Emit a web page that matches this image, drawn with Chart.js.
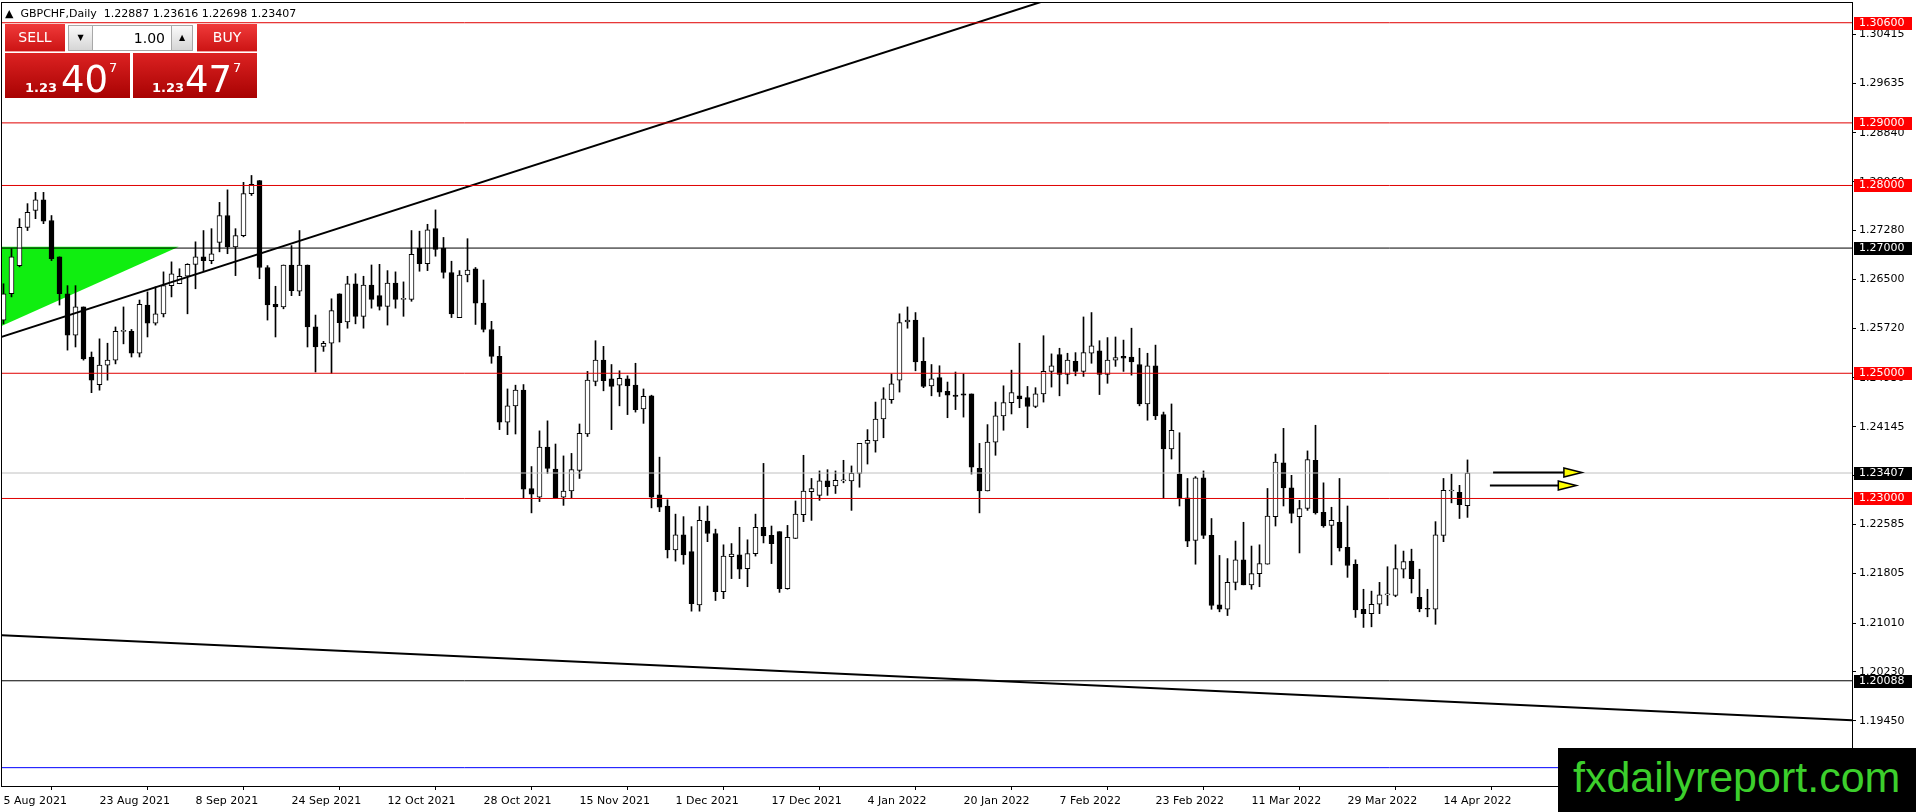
<!DOCTYPE html>
<html>
<head>
<meta charset="utf-8">
<script src="https://cdn.jsdelivr.net/npm/chart.js@4.4.1/dist/chart.umd.min.js"></script>
<style>
  html, body { margin: 0; padding: 0; background: #fff; }
  #wrap { position: relative; width: 1916px; height: 812px; overflow: hidden; font-family: 'DejaVu Sans', sans-serif; }
  #wrap canvas { position: absolute; left: 0; top: 0; }
  .ov { position: absolute; box-sizing: border-box; }
  #title { left: 5px; top: 7px; font-size: 11px; color: #000; white-space: pre; }
  .btn { top: 24px; height: 28px; width: 60px; color: #fff; font-size: 14px; text-align: center; line-height: 26px;
         background: linear-gradient(#f03a3a, #cc1414); border-bottom: 1px solid #f3a0a0; }
  .spin { top: 25px; height: 26px; background: linear-gradient(#fafafa, #d6d6d6); border: 1px solid #a8a8a8;
          font-size: 8px; text-align: center; line-height: 24px; color: #000; }
  #qty { left: 92px; top: 25px; width: 80px; height: 26px; background: #fff; border: 1px solid #a8a8a8;
         font-size: 14px; text-align: right; padding-right: 6px; line-height: 24px; }
  .price { top: 53px; height: 45px; background: linear-gradient(#dc2222, #a80202); color: #fff; }
  .price span { position: absolute; line-height: 1; }
  .p1 { font-size: 13px; font-weight: bold; top: 28px; }
  .p2 { font-size: 37px; top: 8px; }
  .p3 { font-size: 13px; top: 8px; }
  #mark { left: 1558px; top: 748px; width: 358px; height: 64px; background: #000; color: #3ccf2c;
          font-family: 'Liberation Sans', sans-serif; font-size: 43px; line-height: 58px; padding-left: 15px; }
</style>
</head>
<body>
<div id="wrap">
  <canvas id="chart" width="1916" height="812"></canvas>
  <div class="ov" id="title">&#9650;  GBPCHF,Daily  1.22887 1.23616 1.22698 1.23407</div>
  <div class="ov btn" style="left:5px">SELL</div>
  <div class="ov spin" style="left:68px;width:25px">&#9660;</div>
  <div class="ov" id="qty">1.00</div>
  <div class="ov spin" style="left:171px;width:22px">&#9650;</div>
  <div class="ov btn" style="left:197px">BUY</div>
  <div class="ov price" style="left:5px;width:125px">
    <span class="p1" style="left:20px">1.23</span><span class="p2" style="left:56px">40</span><span class="p3" style="left:104px">7</span>
  </div>
  <div class="ov price" style="left:133px;width:124px">
    <span class="p1" style="left:19px">1.23</span><span class="p2" style="left:52px">47</span><span class="p3" style="left:100px">7</span>
  </div>
  <div class="ov" id="mark">fxdailyreport.com</div>
</div>
<script>
// daily bars, 5 Aug 2021 .. 19 Apr 2022
const opens = [
  1.2585,1.2627,1.2672,1.2733,1.2760,1.2777,1.2744,1.2686,1.2627,1.2561,
  1.2606,1.2526,1.2482,1.2513,1.2521,1.2567,1.2567,1.2532,1.2609,1.2580,
  1.2595,1.2640,1.2643,1.2655,1.2674,1.2686,1.2680,1.2709,1.2752,1.2702,
  1.2720,1.2787,1.2808,1.2669,1.2610,1.2606,1.2673,1.2631,1.2673,1.2574,
  1.2543,1.2548,1.2627,1.2582,1.2643,1.2591,1.2641,1.2624,1.2607,1.2644,
  1.2618,1.2618,1.2700,1.2675,1.2731,1.2700,1.2661,1.2589,1.2657,1.2667,
  1.2612,1.2570,1.2527,1.2422,1.2448,1.2473,1.2316,1.2302,1.2382,1.2347,
  1.2302,1.2312,1.2345,1.2403,1.2487,1.2521,1.2491,1.2481,1.2491,1.2481,
  1.2443,1.2464,1.2306,1.2288,1.2218,1.2242,1.2215,1.2130,1.2264,1.2244,
  1.2151,1.2207,1.2210,1.2188,1.2212,1.2254,1.2241,1.2247,1.2156,1.2236,
  1.2274,1.2311,1.2305,1.2328,1.2320,1.2328,1.2328,1.2340,1.2388,1.2392,
  1.2427,1.2458,1.2489,1.2582,1.2585,1.2519,1.2480,1.2493,1.2471,1.2465,
  1.2467,1.2467,1.2348,1.2312,1.2390,1.2432,1.2453,1.2464,1.2461,1.2447,
  1.2467,1.2503,1.2530,1.2498,1.2519,1.2503,1.2532,1.2536,1.2498,1.2521,
  1.2527,1.2526,1.2514,1.2451,1.2512,1.2434,1.2379,1.2339,1.2301,1.2233,
  1.2333,1.2241,1.2130,1.2123,1.2166,1.2202,1.2162,1.2180,1.2195,1.2271,
  1.2357,1.2317,1.2271,1.2284,1.2361,1.2278,1.2257,1.2262,1.2222,1.2195,
  1.2123,1.2116,1.2131,1.2146,1.2145,1.2187,1.2200,1.2142,1.2124,1.2123,
  1.2241,1.2312,1.2310,1.22887
];
const highs = [
  1.2643,1.2699,1.2747,1.2771,1.2789,1.2789,1.2752,1.2686,1.2640,1.2640,
  1.2606,1.2534,1.2555,1.2548,1.2574,1.2606,1.2570,1.2617,1.2630,1.2638,
  1.2662,1.2678,1.2667,1.2675,1.2710,1.2728,1.2731,1.2773,1.2793,1.2731,
  1.2805,1.2816,1.2808,1.2672,1.2639,1.2673,1.2704,1.2728,1.2673,1.2593,
  1.2551,1.2619,1.2627,1.2655,1.2659,1.2655,1.2673,1.2674,1.2664,1.2662,
  1.2646,1.2728,1.2727,1.2738,1.2761,1.2717,1.2679,1.2664,1.2715,1.2669,
  1.2649,1.2583,1.2543,1.2475,1.2481,1.2482,1.2351,1.2408,1.2424,1.2387,
  1.2368,1.2372,1.2419,1.2503,1.2552,1.2543,1.2514,1.2504,1.2496,1.2516,
  1.2475,1.2465,1.2366,1.2298,1.2275,1.2271,1.2255,1.2287,1.2288,1.2251,
  1.2226,1.2228,1.2254,1.2234,1.2275,1.2356,1.2256,1.2247,1.2257,1.2296,
  1.2369,1.2332,1.2344,1.2346,1.2344,1.2361,1.2352,1.2388,1.2410,1.2454,
  1.2477,1.2499,1.2595,1.2606,1.2597,1.2557,1.2514,1.2512,1.2486,1.2502,
  1.2499,1.2467,1.2388,1.2418,1.2454,1.2480,1.2505,1.2548,1.2479,1.2477,
  1.2560,1.2531,1.2540,1.2532,1.2533,1.2590,1.2597,1.2552,1.2557,1.2558,
  1.2553,1.2572,1.2540,1.2532,1.2545,1.2438,1.2451,1.2405,1.2332,1.2335,
  1.2344,1.2268,1.2209,1.2204,1.2232,1.2262,1.2224,1.2226,1.2316,1.2371,
  1.2412,1.2337,1.2297,1.2376,1.2417,1.2325,1.2286,1.2332,1.2288,1.2202,
  1.2155,1.2152,1.2166,1.2191,1.2226,1.2216,1.2219,1.2187,1.2155,1.2263,
  1.2332,1.2339,1.2321,1.23616
];
const lows = [
  1.2579,1.2622,1.2670,1.2728,1.2747,1.2739,1.2680,1.2609,1.2537,1.2542,
  1.2521,1.2469,1.2473,1.2489,1.2515,1.2547,1.2526,1.2526,1.2558,1.2577,
  1.2590,1.2622,1.2643,1.2595,1.2635,1.2664,1.2675,1.2694,1.2691,1.2656,
  1.2718,1.2784,1.2651,1.2585,1.2558,1.2603,1.2624,1.2624,1.2542,1.2502,
  1.2535,1.2500,1.2550,1.2572,1.2579,1.2572,1.2604,1.2601,1.2577,1.2604,
  1.2591,1.2615,1.2663,1.2664,1.2687,1.2652,1.2589,1.2589,1.2646,1.2578,
  1.2566,1.2516,1.2410,1.2402,1.2403,1.2301,1.2277,1.2295,1.2340,1.2301,
  1.2289,1.2301,1.2332,1.2399,1.2480,1.2472,1.2410,1.2448,1.2434,1.2438,
  1.2420,1.2285,1.2279,1.2205,1.2200,1.2195,1.2120,1.2120,1.2231,1.2137,
  1.2140,1.2172,1.2172,1.2159,1.2208,1.2229,1.2196,1.2150,1.2155,1.2236,
  1.2263,1.2265,1.2297,1.2305,1.2308,1.2325,1.2281,1.2318,1.2355,1.2374,
  1.2397,1.2452,1.2470,1.2572,1.2504,1.2477,1.2464,1.2463,1.2429,1.2442,
  1.2430,1.2339,1.2277,1.2312,1.2369,1.2409,1.2435,1.2445,1.2413,1.2445,
  1.2454,1.2478,1.2464,1.2483,1.2496,1.2495,1.2516,1.2466,1.2484,1.2511,
  1.2503,1.2497,1.2448,1.2425,1.2426,1.2300,1.2363,1.2288,1.2223,1.2195,
  1.2236,1.2123,1.2119,1.2113,1.2154,1.2162,1.2155,1.2159,1.2195,1.2256,
  1.2288,1.2261,1.2213,1.2281,1.2275,1.2254,1.2194,1.2216,1.2174,1.2110,
  1.2094,1.2095,1.2116,1.2129,1.2143,1.2173,1.2149,1.2119,1.2111,1.2099,
  1.2231,1.2293,1.2268,1.22698
];
const closes = [
  1.2627,1.2686,1.2733,1.2757,1.2777,1.2743,1.2683,1.2627,1.2561,1.2606,
  1.2523,1.2489,1.2513,1.2521,1.2567,1.2568,1.2532,1.2610,1.2580,1.2595,
  1.2640,1.2659,1.2655,1.2674,1.2686,1.2680,1.2691,1.2752,1.2702,1.2720,
  1.2787,1.2802,1.2669,1.2609,1.2606,1.2673,1.2632,1.2673,1.2574,1.2542,
  1.2548,1.2600,1.2581,1.2643,1.2591,1.2641,1.2618,1.2607,1.2644,1.2618,
  1.2619,1.2690,1.2675,1.2729,1.2698,1.2661,1.2595,1.2657,1.2665,1.2612,
  1.2570,1.2527,1.2422,1.2448,1.2473,1.2315,1.2307,1.2382,1.2348,1.2301,
  1.2312,1.2346,1.2404,1.2489,1.2521,1.2488,1.2479,1.2492,1.2480,1.2442,
  1.2463,1.2302,1.2286,1.2218,1.2242,1.2210,1.2132,1.2265,1.2244,1.2151,
  1.2208,1.2211,1.2187,1.2212,1.2254,1.2240,1.2228,1.2156,1.2238,1.2275,
  1.2312,1.2316,1.2328,1.2319,1.2329,1.2329,1.2340,1.2388,1.2393,1.2427,
  1.2459,1.2483,1.2581,1.2585,1.2518,1.2479,1.2491,1.2470,1.2465,1.2463,
  1.2465,1.2350,1.2312,1.2390,1.2432,1.2453,1.2469,1.2459,1.2447,1.2467,
  1.2503,1.2512,1.2498,1.2521,1.2503,1.2533,1.2544,1.2498,1.2521,1.2525,
  1.2524,1.2518,1.2451,1.2512,1.2432,1.2379,1.2409,1.2301,1.2232,1.2333,
  1.2241,1.2129,1.2123,1.2166,1.2202,1.2162,1.2180,1.2196,1.2272,1.2358,
  1.2317,1.2276,1.2284,1.2362,1.2277,1.2256,1.2265,1.2221,1.2193,1.2122,
  1.2116,1.2131,1.2146,1.2147,1.2188,1.2199,1.2172,1.2124,1.2123,1.2242,
  1.2313,1.2313,1.2290,1.23407
];

// date labels shown every 12 bars
const tickDates = ['5 Aug 2021', '23 Aug 2021', '8 Sep 2021', '24 Sep 2021', '12 Oct 2021', '28 Oct 2021',
  '15 Nov 2021', '1 Dec 2021', '17 Dec 2021', '4 Jan 2022', '20 Jan 2022', '7 Feb 2022',
  '23 Feb 2022', '11 Mar 2022', '29 Mar 2022', '14 Apr 2022'];
const tickBars = [0, 12, 24, 36, 48, 60, 72, 84, 96, 108, 120, 132, 144, 156, 168, 180];
const priceTicks = [1.30415, 1.29635, 1.28840, 1.28060, 1.27280, 1.26500, 1.25720, 1.24930,
  1.24145, 1.23365, 1.22585, 1.21805, 1.21010, 1.20230, 1.19450];

// drawn objects
const redLevels = [1.30600, 1.29000, 1.28000, 1.25000, 1.23000];
const blackLevels = [1.27000, 1.20088];
const bidLevel = 1.23407;
const blueLevel = 1.18700;
const upperTrend = [[-1, 1.2555], [135, 1.3115]];
const lowerTrend = [[-1, 1.2082], [232, 1.1945]];
const greenTriangle = [[-0.2, 1.2702], [21.9, 1.2702], [-0.2, 1.2576]];
const arrowStart = [186.2, 185.8];
const arrowTip = [197.3, 196.6];
const arrowPrice = [1.2342, 1.2322];

const X_MIN = -0.1875, X_MAX = 231.0625;
const Y_MIN = 1.18407, Y_MAX = 1.30915;
const FONT = { family: 'DejaVu Sans', size: 11 };

function hLine(price, color) {
  return {
    type: 'line', data: [{ x: X_MIN, y: price }, { x: X_MAX, y: price }],
    borderColor: color, borderWidth: 1, pointRadius: 0, order: 1
  };
}

const datasets = [
  {
    type: 'bar',
    data: opens.map((o, i) => ({ x: i, y: [o, closes[i]] })),
    backgroundColor: opens.map((o, i) => closes[i] >= o ? '#ffffff' : '#000000'),
    borderColor: '#000', borderWidth: 1, borderSkipped: false,
    barThickness: 5, minBarLength: 1, grouped: false, order: 4
  },
  {
    type: 'bar',
    data: lows.map((l, i) => ({ x: i, y: [l, highs[i]] })),
    backgroundColor: '#000', borderWidth: 0,
    barThickness: 1, grouped: false, order: 5
  },
  hLine(bidLevel, '#c0c0c0'),
  hLine(blueLevel, '#0000ff'),
  ...redLevels.map(p => hLine(p, '#e00000')),
  ...blackLevels.map(p => hLine(p, '#000000')),
  {
    type: 'line', data: upperTrend.map(p => ({ x: p[0], y: p[1] })),
    borderColor: '#000', borderWidth: 2, pointRadius: 0, order: 1
  },
  {
    type: 'line', data: lowerTrend.map(p => ({ x: p[0], y: p[1] })),
    borderColor: '#000', borderWidth: 2, pointRadius: 0, order: 1
  }
];

const decor = {
  id: 'decor',
  beforeDatasetsDraw(chart) {
    const { ctx, chartArea, scales: { x, y } } = chart;
    ctx.save();
    ctx.beginPath();
    ctx.rect(chartArea.left, chartArea.top, chartArea.width, chartArea.height);
    ctx.clip();
    ctx.beginPath();
    greenTriangle.forEach((p, i) => {
      const px = x.getPixelForValue(p[0]), py = y.getPixelForValue(p[1]);
      if (i === 0) ctx.moveTo(px, py); else ctx.lineTo(px, py);
    });
    ctx.closePath();
    ctx.fillStyle = '#10ee10';
    ctx.fill();
    ctx.restore();
  },
  afterDraw(chart) {
    const { ctx, chartArea, scales: { x, y } } = chart;
    ctx.save();
    // frame
    ctx.strokeStyle = '#000';
    ctx.lineWidth = 1;
    ctx.strokeRect(chartArea.left - 0.5, chartArea.top - 0.5, chartArea.width + 1, chartArea.height + 1);

    // arrows
    arrowPrice.forEach((p, i) => {
      const py = Math.round(y.getPixelForValue(p)) + 0.5;
      const x0 = x.getPixelForValue(arrowStart[i]);
      const x1 = x.getPixelForValue(arrowTip[i]);
      const hx = x1 - 18;
      ctx.strokeStyle = '#000';
      ctx.lineWidth = 2;
      ctx.beginPath();
      ctx.moveTo(x0, py);
      ctx.lineTo(hx, py);
      ctx.stroke();
      ctx.beginPath();
      ctx.moveTo(hx, py - 4.5);
      ctx.lineTo(x1, py);
      ctx.lineTo(hx, py + 4.5);
      ctx.closePath();
      ctx.fillStyle = '#ffff00';
      ctx.fill();
      ctx.lineWidth = 1.5;
      ctx.stroke();
    });

    // price labels on the axis
    const boxes = [
      ...redLevels.map(p => [p, '#ff0000']),
      ...blackLevels.map(p => [p, '#000000']),
      [bidLevel, '#000000']
    ];
    ctx.font = "11px 'DejaVu Sans'";
    ctx.textBaseline = 'middle';
    ctx.textAlign = 'left';
    boxes.forEach(([p, c]) => {
      const py = Math.round(y.getPixelForValue(p));
      ctx.fillStyle = c;
      ctx.fillRect(chartArea.right + 2, py - 6, 58, 13);
      ctx.fillStyle = '#fff';
      ctx.fillText(p.toFixed(5), chartArea.right + 7, py + 0.5);
    });
    ctx.restore();
  }
};

new Chart(document.getElementById('chart'), {
  type: 'bar',
  data: { datasets },
  options: {
    responsive: false,
    animation: false,
    devicePixelRatio: 1,
    events: [],
    layout: { padding: { left: 2, top: 3, right: 0, bottom: 0 } },
    plugins: { legend: { display: false }, tooltip: { enabled: false } },
    elements: { line: { tension: 0 } },
    scales: {
      x: {
        type: 'linear', min: X_MIN, max: X_MAX, offset: false,
        grid: { drawOnChartArea: false, drawTicks: true, tickLength: 4, color: '#000' },
        border: { display: false },
        afterBuildTicks: s => { s.ticks = tickBars.map(v => ({ value: v })); },
        afterFit: s => { s.height = 26; s.paddingLeft = 0; s.paddingRight = 0; },
        ticks: {
          autoSkip: false, maxRotation: 0, align: 'start', padding: 5,
          color: '#000', font: FONT,
          callback: v => tickDates[tickBars.indexOf(v)]
        }
      },
      y: {
        position: 'right', min: Y_MIN, max: Y_MAX,
        grid: { drawOnChartArea: false, drawTicks: true, tickLength: 4, color: '#000' },
        border: { display: true, color: '#000' },
        afterBuildTicks: s => { s.ticks = priceTicks.map(v => ({ value: v })); },
        afterFit: s => { s.width = 64; s.paddingTop = 0; s.paddingBottom = 0; },
        ticks: {
          padding: 3, color: '#000', font: FONT,
          callback: v => v.toFixed(5)
        }
      }
    }
  },
  plugins: [decor]
});
</script>
</body>
</html>
